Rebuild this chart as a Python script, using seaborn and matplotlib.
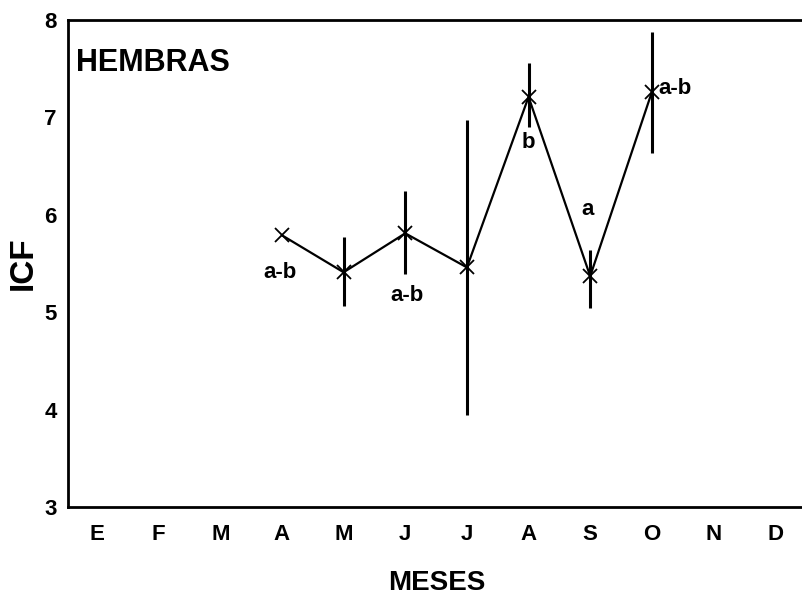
import matplotlib
matplotlib.use("Agg")
import matplotlib.pyplot as plt
import seaborn as sns
import pandas as pd
import numpy as np

months = ["E", "F", "M", "A", "M", "J", "J", "A", "S", "O", "N", "D"]
obs_idx = [3, 4, 5, 6, 7, 8, 9]
icf = [5.79, 5.41, 5.81, 5.46, 7.21, 5.37, 7.26]
err_low = [np.nan, 5.06, 5.39, 3.94, 6.90, 5.04, 6.63]
err_high = [np.nan, 5.77, 6.24, 6.97, 7.56, 5.64, 7.88]
sig_labels = ["a-b", "a-b", "b", "a", "a-b"]
sig_x = [2.97, 5.03, 7.0, 7.95, 9.1]
sig_y = [5.41, 5.17, 6.74, 6.05, 7.30]
sig_ha = ["center", "center", "center", "center", "left"]

sns.set_theme(style="white")
plt.rcParams['font.family'] = ['Liberation Sans', 'DejaVu Sans']
plt.rcParams['font.weight'] = 'bold'

fig = plt.figure(figsize=(8.02, 5.96), dpi=100)
ax = fig.add_axes([68/802, 89/596, 738/802, 487/596])

df = pd.DataFrame({"x": obs_idx, "icf": icf})
sns.lineplot(data=df, x="x", y="icf", ax=ax, color="black", linewidth=1.6,
             marker="x", markersize=10, markeredgewidth=1.3,
             markeredgecolor="black", estimator=None)

lo = np.array(err_low)
hi = np.array(err_high)
xs = np.array(obs_idx)
m = ~np.isnan(lo)
ax.vlines(xs[m], lo[m], hi[m], color="black", linewidth=2.2)

for t, x, y, ha in zip(sig_labels, sig_x, sig_y, sig_ha):
    ax.text(x, y, t, ha=ha, va="center", fontsize=16, fontweight="bold", color="black")

ax.text(0.011, 0.912, "HEMBRAS", transform=ax.transAxes, fontsize=22,
        fontweight="bold", ha="left", va="center", color="black")

ax.set_xlim(-0.47, 11.5)
ax.set_ylim(3, 8)
ax.set_xticks(range(12))
ax.set_xticklabels(months)
ax.set_yticks([3, 4, 5, 6, 7, 8])
ax.set_yticklabels(["3", "4", "5", "6", "7", "8"])
ax.tick_params(axis="both", direction="in", length=5, width=1.2, colors="black",
               labelsize=16, pad=8)
ax.tick_params(axis="x", pad=12)
for lab in ax.get_xticklabels() + ax.get_yticklabels():
    lab.set_fontweight("bold")

ax.set_xlabel("MESES", fontsize=20, fontweight="bold", color="black", labelpad=18)
ax.set_ylabel("ICF", fontsize=24, fontweight="bold", color="black", labelpad=4)

for s in ["left", "bottom", "top"]:
    ax.spines[s].set_color("black")
    ax.spines[s].set_linewidth(2)
ax.spines["right"].set_visible(False)

fig.savefig("out.png", dpi=100, facecolor="white")
